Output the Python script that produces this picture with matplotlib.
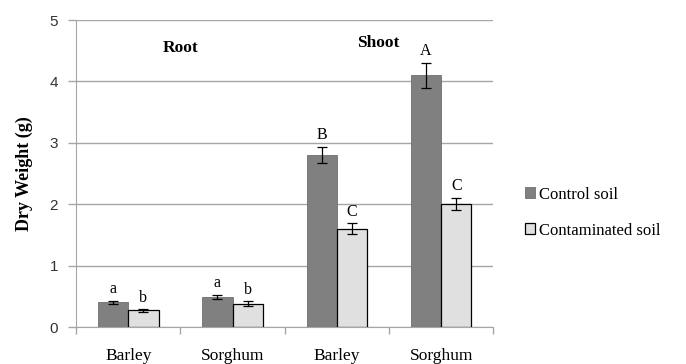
import numpy as np
import matplotlib.pyplot as plt

categories = ["Barley", "Sorghum", "Barley", "Sorghum"]
control = [0.40, 0.49, 2.80, 4.10]
control_err = [0.03, 0.03, 0.13, 0.20]
contaminated = [0.27, 0.38, 1.60, 2.00]
contaminated_err = [0.02, 0.04, 0.09, 0.10]
control_letters = ["a", "a", "B", "A"]
contaminated_letters = ["b", "b", "C", "C"]
series_names = ["Control soil", "Contaminated soil"]

serif = ["Liberation Serif", "DejaVu Serif"]
sans = ["Liberation Sans", "DejaVu Sans"]
grey = "#a6a6a6"

fig = plt.figure(figsize=(6.86, 3.64), dpi=100)
ax = fig.add_axes([0.111, 0.1016, 0.608, 0.8434])

x = np.arange(len(categories))
w = 0.29
ax.bar(x - w / 2, control, w, color="#808080", edgecolor="#6e6e6e",
       linewidth=0.6, label=series_names[0], zorder=3)
ax.bar(x + w / 2, contaminated, w, color="#e0e0e0", edgecolor="black",
       linewidth=0.9, label=series_names[1], zorder=3)
ax.errorbar(x - w / 2, control, yerr=control_err, fmt="none", ecolor="black",
            elinewidth=0.9, capsize=3.5, capthick=0.9, zorder=4)
ax.errorbar(x + w / 2, contaminated, yerr=contaminated_err, fmt="none", ecolor="black",
            elinewidth=0.9, capsize=3.5, capthick=0.9, zorder=4)

# significance letters above each error bar
for i in range(len(categories)):
    ax.text(x[i] - w / 2, control[i] + control_err[i] + 0.06, control_letters[i],
            ha="center", va="bottom", fontsize=11.5, family=serif)
    ax.text(x[i] + w / 2, contaminated[i] + contaminated_err[i] + 0.06, contaminated_letters[i],
            ha="center", va="bottom", fontsize=11.5, family=serif)

ax.text(0.5, 4.55, "Root", ha="center", va="center", fontsize=12.5,
        fontweight="bold", family=serif)
ax.text(2.4, 4.62, "Shoot", ha="center", va="center", fontsize=12.5,
        fontweight="bold", family=serif)

ax.set_xlim(-0.5, len(categories) - 0.5)
ax.set_ylim(0, 5)
ax.set_yticks(np.arange(0, 6, 1))
ax.set_yticklabels([str(v) for v in range(6)], family=sans, fontsize=11, color="#333333")
ax.set_xticks(np.arange(-0.5, len(categories), 1))
ax.set_xticklabels([])
ax.set_xticks(x, minor=True)
ax.set_xticklabels(categories, minor=True, family=serif, fontsize=12.5)
ax.tick_params(axis="x", which="minor", length=0, pad=15)
ax.tick_params(axis="x", which="major", length=5, color=grey, width=1)
ax.tick_params(axis="y", length=6, color=grey, width=1, pad=7)

ax.grid(axis="y", color=grey, linewidth=1, zorder=0)
for side in ["top", "right"]:
    ax.spines[side].set_visible(False)
ax.spines["left"].set_color(grey)
ax.spines["bottom"].set_color(grey)
ax.set_ylabel("Dry Weight (g)", family=serif, fontweight="bold", fontsize=13, labelpad=12)

ax.legend(loc="center left", bbox_to_anchor=(1.076, 0.373), frameon=False,
          borderaxespad=0, borderpad=0,
          prop={"family": serif, "size": 12}, handlelength=0.6, handleheight=0.6,
          handletextpad=0.25, labelspacing=1.2)

fig.savefig("out.png", dpi=100)
